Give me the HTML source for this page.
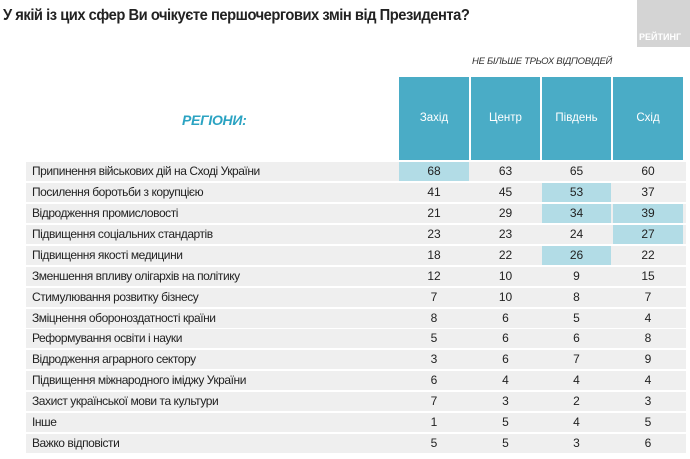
<!DOCTYPE html>
<html><head><meta charset="utf-8"><style>
body{margin:0;width:690px;height:459px;background:#fff;position:relative;overflow:hidden;font-family:"Liberation Sans",sans-serif;}
.a{position:absolute;}
.t{left:3px;top:7px;font-size:15.5px;font-weight:bold;color:#222;letter-spacing:-0.5px;transform:scaleX(0.95);transform-origin:0 0;white-space:nowrap;}
.logo{left:637px;top:0;width:53px;height:47px;background:#d4d4d4;}
.logo span{position:absolute;bottom:5px;left:2px;color:#fff;font-size:9px;font-weight:bold;}
.note{left:300px;top:56px;width:312px;text-align:right;font-size:9.5px;font-style:italic;color:#333;letter-spacing:-0.3px;}
.reg{left:182px;top:112px;font-size:14px;font-style:italic;color:#2ba3c2;font-weight:bold;letter-spacing:-0.3px;}
.h{top:77px;height:83px;background:#4aacc6;color:#fff;font-size:11.5px;text-align:center;line-height:83px;}
.row{left:26px;width:660px;height:19px;background:#efefef;}
.lbl{position:absolute;left:6px;top:0;line-height:19px;font-size:12px;color:#222;letter-spacing:-0.45px;}
.c{position:absolute;top:0;height:19px;line-height:19px;text-align:center;font-size:12px;color:#222;}
.hl{background:#b2dce6;}
</style></head><body>
<div class="a t">У якій із цих сфер Ви очікуєте першочергових змін від Президента?</div>
<div class="a logo"><span>РЕЙТИНГ</span></div>
<div class="a note">НЕ БІЛЬШЕ ТРЬОХ ВІДПОВІДЕЙ</div>
<div class="a reg">РЕГІОНИ:</div>
<div class="a h" style="left:399px;width:70px">Захід</div>
<div class="a h" style="left:471px;width:69px">Центр</div>
<div class="a h" style="left:542px;width:69px">Південь</div>
<div class="a h" style="left:613px;width:70px">Схід</div>
<div id="rows"></div>
<script>
var d=[["Припинення військових дій на Сході України",68,63,65,60,[0]],
["Посилення боротьби з корупцією",41,45,53,37,[2]],
["Відродження промисловості",21,29,34,39,[2,3]],
["Підвищення соціальних стандартів",23,23,24,27,[3]],
["Підвищення якості медицини",18,22,26,22,[2]],
["Зменшення впливу олігархів на політику",12,10,9,15,[]],
["Стимулювання розвитку бізнесу",7,10,8,7,[]],
["Зміцнення обороноздатності країни",8,6,5,4,[]],
["Реформування освіти і науки",5,6,6,8,[]],
["Відродження аграрного сектору",3,6,7,9,[]],
["Підвищення міжнародного іміджу України",6,4,4,4,[]],
["Захист української мови та культури",7,3,2,3,[]],
["Інше",1,5,4,5,[]],
["Важко відповісти",5,5,3,6,[]]];
var xs=[[373,70],[445,69],[516,69],[587,70]],h="";
d.forEach(function(r,i){var y=162+i*20.93;
h+='<div class="a row" style="top:'+y.toFixed(1)+'px"><div class="lbl">'+r[0]+'</div>';
for(var k=0;k<4;k++){h+='<div class="c'+(r[5].indexOf(k)>=0?' hl':'')+'" style="left:'+xs[k][0]+'px;width:'+xs[k][1]+'px">'+r[k+1]+'</div>';}
h+='</div>';});
document.getElementById('rows').innerHTML=h;
</script>
</body></html>
